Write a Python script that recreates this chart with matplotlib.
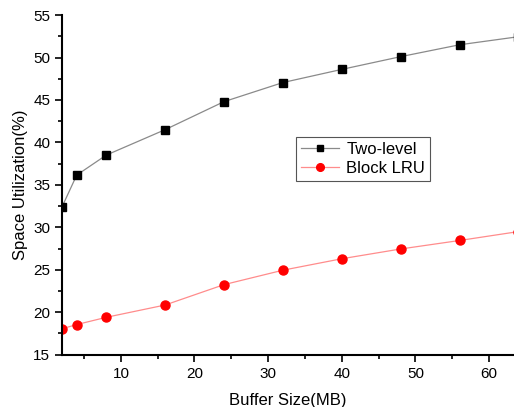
import matplotlib
matplotlib.use("Agg")
import matplotlib.pyplot as plt
from matplotlib.ticker import MultipleLocator

plt.rcParams['font.family'] = ['Liberation Sans', 'DejaVu Sans']

# datos
buffer_mb = [2, 4, 8, 16, 24, 32, 40, 48, 56, 64]
two_level = [32.4, 36.15, 38.5, 41.5, 44.8, 47.05, 48.6, 50.1, 51.5, 52.45]
block_lru = [18.05, 18.55, 19.4, 20.85, 23.25, 24.95, 26.3, 27.45, 28.45, 29.5]

fig = plt.figure(figsize=(5.14, 4.07), dpi=100)
ax = fig.add_axes([0.1206, 0.1285, 0.8794, 0.8345])

ax.plot(buffer_mb, two_level, color="#8a8a8a", lw=0.9, marker="s", ms=5.5,
        mfc="black", mec="black", label="Two-level")
ax.plot(buffer_mb, block_lru, color="#ff8c8c", lw=0.9, marker="o", ms=6.5,
        mfc="red", mec="red", label="Block LRU")

ax.set_xlim(2, 63.4)
ax.set_ylim(15, 55)
ax.xaxis.set_major_locator(MultipleLocator(10))
ax.xaxis.set_minor_locator(MultipleLocator(5))
ax.yaxis.set_major_locator(MultipleLocator(5))
ax.yaxis.set_minor_locator(MultipleLocator(2.5))

for s in ["top", "right"]:
    ax.spines[s].set_visible(False)
for s in ["left", "bottom"]:
    ax.spines[s].set_linewidth(1.5)

ax.tick_params(which="major", direction="out", length=5, width=1.2, labelsize=11)
ax.tick_params(which="minor", direction="out", length=3, width=1.2)

ax.set_xlabel("Buffer Size(MB)", fontsize=12, labelpad=9)
ax.set_ylabel("Space Utilization(%)", fontsize=12, labelpad=4)

leg = ax.legend(loc="upper left", bbox_to_anchor=(0.518, 0.641), fontsize=12,
                fancybox=False, edgecolor="#555555", framealpha=1,
                handlelength=2.3, borderpad=0.3, labelspacing=0.25,
                handletextpad=0.4, borderaxespad=0, markerscale=0.85)
leg.get_frame().set_linewidth(0.8)

fig.savefig("out.png", dpi=100)
